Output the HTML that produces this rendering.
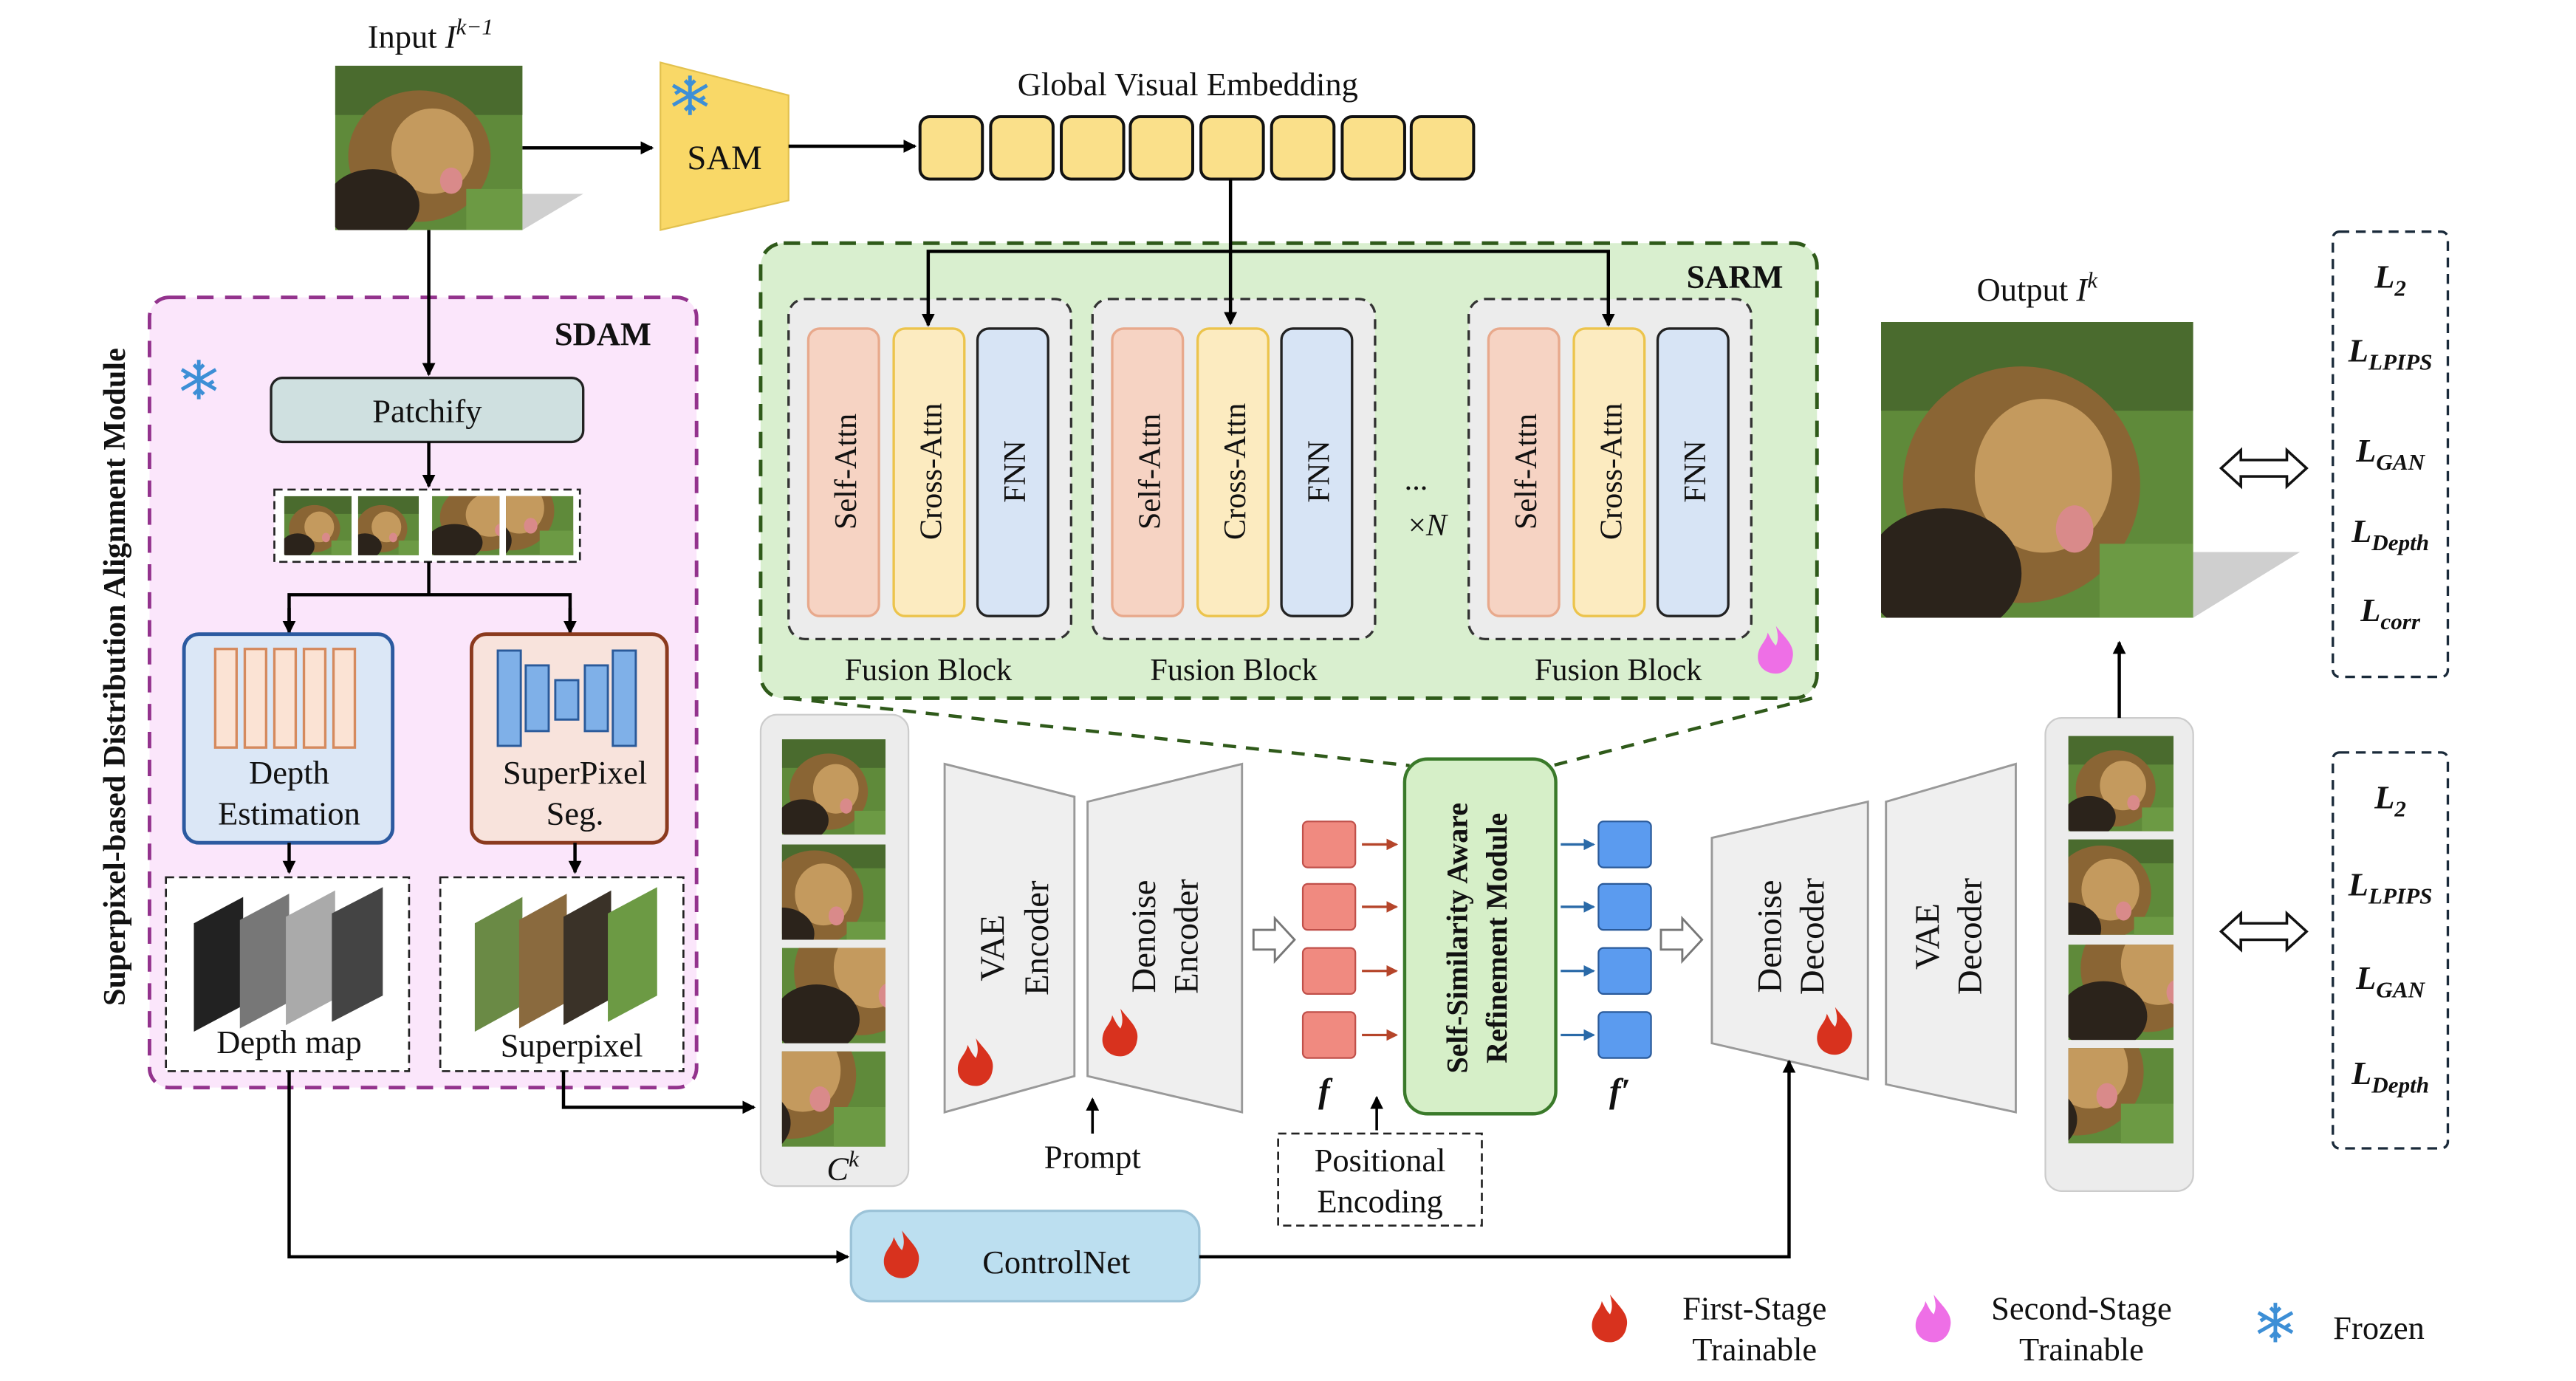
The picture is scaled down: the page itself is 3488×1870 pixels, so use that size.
<!DOCTYPE html>
<html><head><meta charset="utf-8"><style>
html,body{margin:0;padding:0;background:#fff}
svg{display:block}
text{font-family:"Liberation Serif",serif;fill:#111}
</style></head><body>
<svg width="3488" height="1870" viewBox="0 0 1568 840.6" preserveAspectRatio="none" xmlns="http://www.w3.org/2000/svg">
<defs>
<marker id="ar" markerWidth="8" markerHeight="8" refX="7" refY="4" orient="auto" markerUnits="userSpaceOnUse"><path d="M0,0 L8,4 L0,8 z" fill="#000"/></marker>
<marker id="arr" markerWidth="7" markerHeight="7" refX="6" refY="3.5" orient="auto" markerUnits="userSpaceOnUse"><path d="M0,0 L7,3.5 L0,7 z" fill="#b5452a"/></marker>
<marker id="arb" markerWidth="7" markerHeight="7" refX="6" refY="3.5" orient="auto" markerUnits="userSpaceOnUse"><path d="M0,0 L7,3.5 L0,7 z" fill="#2a6aa8"/></marker>
<g id="lion">
<rect x="0" y="0" width="100" height="100" fill="#5f8a3a"/>
<rect x="0" y="0" width="100" height="30" fill="#4a6b2e"/>
<ellipse cx="45" cy="55" rx="38" ry="40" fill="#8a6534"/>
<ellipse cx="52" cy="52" rx="22" ry="26" fill="#c49a5e"/>
<ellipse cx="20" cy="85" rx="25" ry="22" fill="#2b231b"/>
<ellipse cx="62" cy="70" rx="6" ry="8" fill="#d98a8a"/>
<rect x="70" y="75" width="30" height="25" fill="#6c9a44"/>
</g>
<g id="flame"><path d="M0,-14 C6,-6 12,-2 10,6 C9,12 4,15 0,15 C-6,15 -11,11 -11,5 C-11,-2 -6,-4 -5,-10 C-3,-6 -2,-4 0,-2 C2,-6 1,-10 0,-14 z"/></g>
<g id="snow" stroke="#3d8fd6" stroke-width="2.2" fill="none"><path d="M0,-12 V12 M-10.4,-6 L10.4,6 M-10.4,6 L10.4,-6 M-3,-9 L0,-6 L3,-9 M-3,9 L0,6 L3,9 M-9,-1 L-6,-3 M9,1 L6,3"/></g>
</defs>

<!-- Input -->
<text x="262" y="29" font-size="20" text-anchor="middle">Input <tspan font-style="italic">I</tspan><tspan font-size="14" dy="-8" font-style="italic">k−1</tspan></text>
<polygon points="318,118 355,118 318,140" fill="#cfcfcf"/>
<svg x="204" y="40" width="114" height="100" viewBox="0 0 100 100" preserveAspectRatio="none"><use href="#lion"/></svg>
<line x1="318" y1="90" x2="397" y2="90" stroke="#000" stroke-width="2" marker-end="url(#ar)"/>
<polygon points="402,38 480,58 480,122 402,140" fill="#f9d867" stroke="#e2c14e" stroke-width="1"/>
<use href="#snow" x="420" y="58"/>
<text x="441" y="103" font-size="21" text-anchor="middle">SAM</text>
<line x1="480" y1="89" x2="557" y2="89" stroke="#000" stroke-width="2" marker-end="url(#ar)"/>
<text x="723" y="58" font-size="20" text-anchor="middle">Global Visual Embedding</text>
<g fill="#fae08a" stroke="#111" stroke-width="1.8">
<rect x="560" y="71" width="38" height="38" rx="6"/><rect x="603" y="71" width="38" height="38" rx="6"/><rect x="646" y="71" width="38" height="38" rx="6"/><rect x="688" y="71" width="38" height="38" rx="6"/><rect x="731" y="71" width="38" height="38" rx="6"/><rect x="774" y="71" width="38" height="38" rx="6"/><rect x="817" y="71" width="38" height="38" rx="6"/><rect x="859" y="71" width="38" height="38" rx="6"/>
</g>

<!-- SARM -->
<rect x="463" y="148" width="643" height="277" rx="14" fill="#d9efcf" stroke="#2f5a1a" stroke-width="2.2" stroke-dasharray="10,7"/>
<text x="1056" y="175" font-size="20" font-weight="bold" text-anchor="middle">SARM</text>
<g fill="#ececec" stroke="#333" stroke-width="1.5" stroke-dasharray="6,4">
<rect x="480" y="182" width="172" height="207" rx="10"/><rect x="665" y="182" width="172" height="207" rx="10"/><rect x="894" y="182" width="172" height="207" rx="10"/>
</g>
<g font-size="19">
<g>
<rect x="492" y="200" width="43" height="175" rx="7" fill="#f6d3c3" stroke="#e8a98c" stroke-width="1.5"/>
<rect x="544" y="200" width="43" height="175" rx="7" fill="#fcebc0" stroke="#ecc44c" stroke-width="1.5"/>
<rect x="595" y="200" width="43" height="175" rx="7" fill="#d7e4f5" stroke="#222" stroke-width="1.5"/>
<text transform="translate(521,287) rotate(-90)" text-anchor="middle" font-size="19">Self-Attn</text>
<text transform="translate(573,287) rotate(-90)" text-anchor="middle" font-size="19">Cross-Attn</text>
<text transform="translate(624,287) rotate(-90)" text-anchor="middle" font-size="19">FNN</text>
</g>
<g transform="translate(185,0)">
<rect x="492" y="200" width="43" height="175" rx="7" fill="#f6d3c3" stroke="#e8a98c" stroke-width="1.5"/>
<rect x="544" y="200" width="43" height="175" rx="7" fill="#fcebc0" stroke="#ecc44c" stroke-width="1.5"/>
<rect x="595" y="200" width="43" height="175" rx="7" fill="#d7e4f5" stroke="#222" stroke-width="1.5"/>
<text transform="translate(521,287) rotate(-90)" text-anchor="middle" font-size="19">Self-Attn</text>
<text transform="translate(573,287) rotate(-90)" text-anchor="middle" font-size="19">Cross-Attn</text>
<text transform="translate(624,287) rotate(-90)" text-anchor="middle" font-size="19">FNN</text>
</g>
<g transform="translate(414,0)">
<rect x="492" y="200" width="43" height="175" rx="7" fill="#f6d3c3" stroke="#e8a98c" stroke-width="1.5"/>
<rect x="544" y="200" width="43" height="175" rx="7" fill="#fcebc0" stroke="#ecc44c" stroke-width="1.5"/>
<rect x="595" y="200" width="43" height="175" rx="7" fill="#d7e4f5" stroke="#222" stroke-width="1.5"/>
<text transform="translate(521,287) rotate(-90)" text-anchor="middle" font-size="19">Self-Attn</text>
<text transform="translate(573,287) rotate(-90)" text-anchor="middle" font-size="19">Cross-Attn</text>
<text transform="translate(624,287) rotate(-90)" text-anchor="middle" font-size="19">FNN</text>
</g>
</g>
<text x="565" y="414" font-size="19" text-anchor="middle">Fusion Block</text>
<text x="751" y="414" font-size="19" text-anchor="middle">Fusion Block</text>
<text x="985" y="414" font-size="19" text-anchor="middle">Fusion Block</text>
<text x="862" y="298" font-size="19" text-anchor="middle">...</text>
<text x="869" y="326" font-size="19" text-anchor="middle">×<tspan font-style="italic">N</tspan></text>
<use href="#flame" x="1081" y="395" fill="#ee6fe6"/>
<polyline points="749,109 749,153" stroke="#000" stroke-width="2" fill="none"/>
<polyline points="565,196 565,153 979,153 979,196" stroke="#000" stroke-width="2" fill="none"/>
<line x1="565" y1="190" x2="565" y2="198" stroke="#000" stroke-width="2" marker-end="url(#ar)"/>
<line x1="749" y1="153" x2="749" y2="197" stroke="#000" stroke-width="2" marker-end="url(#ar)"/>
<line x1="979" y1="190" x2="979" y2="198" stroke="#000" stroke-width="2" marker-end="url(#ar)"/>
<line x1="480" y1="425" x2="858" y2="466" stroke="#2f5a1a" stroke-width="2" stroke-dasharray="8,6"/>
<line x1="1103" y1="425" x2="945" y2="466" stroke="#2f5a1a" stroke-width="2" stroke-dasharray="8,6"/>

<!-- SDAM -->
<rect x="91" y="181" width="333" height="481" rx="12" fill="#fbe6fb" stroke="#93338d" stroke-width="2.2" stroke-dasharray="10,7"/>
<text x="367" y="210" font-size="20" font-weight="bold" text-anchor="middle">SDAM</text>
<use href="#snow" x="121" y="231"/>
<text transform="translate(76,412) rotate(-90)" font-size="19" font-weight="bold" text-anchor="middle">Superpixel-based Distribution Alignment Module</text>
<line x1="261" y1="140" x2="261" y2="228" stroke="#000" stroke-width="2" marker-end="url(#ar)"/>
<rect x="165" y="230" width="190" height="39" rx="7" fill="#cfe0e0" stroke="#222" stroke-width="1.5"/>
<text x="260" y="257" font-size="20" text-anchor="middle">Patchify</text>
<line x1="261" y1="269" x2="261" y2="296" stroke="#000" stroke-width="2" marker-end="url(#ar)"/>
<rect x="167" y="298" width="186" height="44" fill="#fff" stroke="#222" stroke-width="1.2" stroke-dasharray="5,3"/>
<svg x="173" y="302" width="41" height="36" viewBox="0 0 100 100" preserveAspectRatio="none"><use href="#lion"/></svg>
<svg x="218" y="302" width="41" height="36" viewBox="10 0 100 100" preserveAspectRatio="none"><use href="#lion"/></svg>
<svg x="263" y="302" width="41" height="36" viewBox="0 30 60 70" preserveAspectRatio="none"><use href="#lion"/></svg>
<svg x="308" y="302" width="41" height="36" viewBox="40 40 60 60" preserveAspectRatio="none"><use href="#lion"/></svg>
<polyline points="261,342 261,362" stroke="#000" stroke-width="2" fill="none"/>
<polyline points="176,384 176,362 347,362 347,384" stroke="#000" stroke-width="2" fill="none"/>
<line x1="176" y1="370" x2="176" y2="385" stroke="#000" stroke-width="2" marker-end="url(#ar)"/>
<line x1="347" y1="370" x2="347" y2="385" stroke="#000" stroke-width="2" marker-end="url(#ar)"/>
<rect x="112" y="386" width="127" height="127" rx="9" fill="#dbe7f6" stroke="#2c5aa0" stroke-width="2.2"/>
<g fill="#fbe3d4" stroke="#d58a5e" stroke-width="1.5">
<rect x="131" y="395" width="13" height="60"/><rect x="149" y="395" width="13" height="60"/><rect x="167" y="395" width="13" height="60"/><rect x="185" y="395" width="13" height="60"/><rect x="203" y="395" width="13" height="60"/>
</g>
<text x="176" y="477" font-size="20" text-anchor="middle">Depth</text>
<text x="176" y="502" font-size="20" text-anchor="middle">Estimation</text>
<rect x="287" y="386" width="119" height="127" rx="9" fill="#f8e3dc" stroke="#8b3a1e" stroke-width="2.2"/>
<g fill="#7fb0e8" stroke="#2a5a9a" stroke-width="1.3">
<rect x="303" y="396" width="14" height="58"/><rect x="320" y="405" width="14" height="40"/><rect x="338" y="414" width="14" height="24"/><rect x="356" y="405" width="14" height="40"/><rect x="373" y="396" width="14" height="58"/>
</g>
<text x="350" y="477" font-size="20" text-anchor="middle">SuperPixel</text>
<text x="350" y="502" font-size="20" text-anchor="middle">Seg.</text>
<line x1="176" y1="513" x2="176" y2="531" stroke="#000" stroke-width="2" marker-end="url(#ar)"/>
<line x1="350" y1="513" x2="350" y2="531" stroke="#000" stroke-width="2" marker-end="url(#ar)"/>
<rect x="101" y="534" width="148" height="118" fill="#fff" stroke="#222" stroke-width="1.2" stroke-dasharray="5,3"/>
<rect x="268" y="534" width="148" height="118" fill="#fff" stroke="#222" stroke-width="1.2" stroke-dasharray="5,3"/>
<polygon points="118,562 148,546 148,612 118,628" fill="#222"/>
<polygon points="146,560 176,544 176,610 146,626" fill="#777"/>
<polygon points="174,558 204,542 204,608 174,624" fill="#aaa"/>
<polygon points="202,556 233,540 233,606 202,622" fill="#444"/>
<text x="176" y="641" font-size="20" text-anchor="middle">Depth map</text>
<polygon points="289,562 318,546 318,612 289,628" fill="#6a8a45"/>
<polygon points="316,560 345,544 345,610 316,626" fill="#8a6a3e"/>
<polygon points="343,558 372,542 372,608 343,624" fill="#3a3228"/>
<polygon points="370,556 400,540 400,606 370,622" fill="#6c9a44"/>
<text x="348" y="643" font-size="20" text-anchor="middle">Superpixel</text>
<polyline points="176,652 176,765 516,765" stroke="#000" stroke-width="2" fill="none" marker-end="url(#ar)"/>
<polyline points="343,652 343,674 459,674" stroke="#000" stroke-width="2" fill="none" marker-end="url(#ar)"/>

<!-- C^k -->
<rect x="463" y="435" width="90" height="287" rx="10" fill="#ececec" stroke="#ccc" stroke-width="1"/>
<svg x="476" y="450" width="63" height="58" viewBox="0 0 100 100" preserveAspectRatio="none"><use href="#lion"/></svg>
<svg x="476" y="514" width="63" height="58" viewBox="20 10 80 80" preserveAspectRatio="none"><use href="#lion"/></svg>
<svg x="476" y="577" width="63" height="58" viewBox="0 40 60 60" preserveAspectRatio="none"><use href="#lion"/></svg>
<svg x="476" y="640" width="63" height="58" viewBox="40 40 60 60" preserveAspectRatio="none"><use href="#lion"/></svg>
<text x="513" y="718" font-size="20" font-style="italic" text-anchor="middle">C<tspan font-size="14" dy="-8">k</tspan></text>

<!-- encoders -->
<polygon points="575,465 654,485 654,655 575,677" fill="#efefef" stroke="#999" stroke-width="1.3"/>
<text transform="translate(611,577) rotate(-90)" font-size="21" text-anchor="middle">VAE</text>
<text transform="translate(638,571) rotate(-90)" font-size="21" text-anchor="middle">Encoder</text>
<use href="#flame" x="594" y="646" fill="#d8321e"/>
<polygon points="662,488 756,465 756,677 662,655" fill="#efefef" stroke="#999" stroke-width="1.3"/>
<text transform="translate(703,570) rotate(-90)" font-size="21" text-anchor="middle">Denoise</text>
<text transform="translate(729,570) rotate(-90)" font-size="21" text-anchor="middle">Encoder</text>
<use href="#flame" x="682" y="628" fill="#d8321e"/>
<line x1="665" y1="690" x2="665" y2="669" stroke="#000" stroke-width="1.6" marker-end="url(#ar)"/>
<text x="665" y="711" font-size="20" text-anchor="middle">Prompt</text>
<path d="M763,566 H776 V559 L788,572 L776,585 V578 H763 Z" fill="#fff" stroke="#777" stroke-width="1.3"/>
<g fill="#f08a80" stroke="#c0504a" stroke-width="1">
<rect x="793" y="500" width="32" height="28" rx="3"/><rect x="793" y="538" width="32" height="28" rx="3"/><rect x="793" y="577" width="32" height="28" rx="3"/><rect x="793" y="616" width="32" height="28" rx="3"/>
</g>
<g stroke="#b5452a" stroke-width="1.5">
<line x1="829" y1="514" x2="850" y2="514" marker-end="url(#arr)"/><line x1="829" y1="552" x2="850" y2="552" marker-end="url(#arr)"/><line x1="829" y1="591" x2="850" y2="591" marker-end="url(#arr)"/><line x1="829" y1="630" x2="850" y2="630" marker-end="url(#arr)"/>
</g>
<text x="806" y="671" font-size="21" font-style="italic" font-weight="bold" text-anchor="middle">f</text>
<rect x="778" y="690" width="124" height="56" fill="#fff" stroke="#222" stroke-width="1.2" stroke-dasharray="5,3"/>
<text x="840" y="713" font-size="20" text-anchor="middle">Positional</text>
<text x="840" y="738" font-size="20" text-anchor="middle">Encoding</text>
<line x1="838" y1="688" x2="838" y2="668" stroke="#000" stroke-width="1.6" marker-end="url(#ar)"/>
<rect x="855" y="462" width="92" height="216" rx="14" fill="#d6efc8" stroke="#3a7a2a" stroke-width="2"/>
<text transform="translate(893,571) rotate(-90)" font-size="18" font-weight="bold" text-anchor="middle">Self-Similarity Aware</text>
<text transform="translate(917,571) rotate(-90)" font-size="18" font-weight="bold" text-anchor="middle">Refinement Module</text>
<g stroke="#2a6aa8" stroke-width="1.5">
<line x1="950" y1="514" x2="970" y2="514" marker-end="url(#arb)"/><line x1="950" y1="552" x2="970" y2="552" marker-end="url(#arb)"/><line x1="950" y1="591" x2="970" y2="591" marker-end="url(#arb)"/><line x1="950" y1="630" x2="970" y2="630" marker-end="url(#arb)"/>
</g>
<g fill="#5b9bef" stroke="#2a5a9a" stroke-width="1">
<rect x="973" y="500" width="32" height="28" rx="3"/><rect x="973" y="538" width="32" height="28" rx="3"/><rect x="973" y="577" width="32" height="28" rx="3"/><rect x="973" y="616" width="32" height="28" rx="3"/>
</g>
<text x="986" y="671" font-size="21" font-style="italic" font-weight="bold" text-anchor="middle">f′</text>
<path d="M1011,566 H1024 V559 L1036,572 L1024,585 V578 H1011 Z" fill="#fff" stroke="#777" stroke-width="1.3"/>

<!-- decoders -->
<polygon points="1042,510 1137,488 1137,657 1042,635" fill="#efefef" stroke="#999" stroke-width="1.3"/>
<text transform="translate(1084,570) rotate(-90)" font-size="21" text-anchor="middle">Denoise</text>
<text transform="translate(1110,570) rotate(-90)" font-size="21" text-anchor="middle">Decoder</text>
<use href="#flame" x="1117" y="627" fill="#d8321e"/>
<polygon points="1148,488 1227,465 1227,677 1148,660" fill="#efefef" stroke="#999" stroke-width="1.3"/>
<text transform="translate(1180,570) rotate(-90)" font-size="21" text-anchor="middle">VAE</text>
<text transform="translate(1206,570) rotate(-90)" font-size="21" text-anchor="middle">Decoder</text>

<!-- output panel -->
<rect x="1245" y="437" width="90" height="288" rx="10" fill="#ececec" stroke="#ccc" stroke-width="1"/>
<svg x="1259" y="448" width="64" height="58" viewBox="0 0 100 100" preserveAspectRatio="none"><use href="#lion"/></svg>
<svg x="1259" y="511" width="64" height="58" viewBox="20 10 80 80" preserveAspectRatio="none"><use href="#lion"/></svg>
<svg x="1259" y="575" width="64" height="58" viewBox="0 40 60 60" preserveAspectRatio="none"><use href="#lion"/></svg>
<svg x="1259" y="638" width="64" height="58" viewBox="40 40 60 60" preserveAspectRatio="none"><use href="#lion"/></svg>
<line x1="1290" y1="437" x2="1290" y2="391" stroke="#000" stroke-width="2" marker-end="url(#ar)"/>
<text x="1240" y="183" font-size="20" text-anchor="middle">Output <tspan font-style="italic">I</tspan><tspan font-size="14" dy="-8" font-style="italic">k</tspan></text>
<polygon points="1335,336 1400,336 1335,376" fill="#cfcfcf"/>
<svg x="1145" y="196" width="190" height="180" viewBox="0 0 100 100" preserveAspectRatio="none"><use href="#lion"/></svg>
<g fill="#fff" stroke="#111" stroke-width="1.6">
<path d="M1352,285 L1364,274 V280 H1392 V274 L1404,285 L1392,296 V290 H1364 V296 Z"/>
<path d="M1352,567 L1364,556 V562 H1392 V556 L1404,567 L1392,578 V572 H1364 V578 Z"/>
</g>
<rect x="1420" y="141" width="70" height="271" rx="4" fill="#fff" stroke="#1a2a3a" stroke-width="1.5" stroke-dasharray="6,4"/>
<rect x="1420" y="458" width="70" height="241" rx="4" fill="#fff" stroke="#1a2a3a" stroke-width="1.5" stroke-dasharray="6,4"/>
<g font-size="20" font-style="italic" font-weight="bold" text-anchor="middle">
<text x="1455" y="175">L<tspan font-size="14" dy="5">2</tspan></text>
<text x="1455" y="220">L<tspan font-size="14" dy="5">LPIPS</tspan></text>
<text x="1455" y="281">L<tspan font-size="14" dy="5">GAN</tspan></text>
<text x="1455" y="330">L<tspan font-size="14" dy="5">Depth</tspan></text>
<text x="1455" y="378">L<tspan font-size="14" dy="5">corr</tspan></text>
<text x="1455" y="492">L<tspan font-size="14" dy="5">2</tspan></text>
<text x="1455" y="545">L<tspan font-size="14" dy="5">LPIPS</tspan></text>
<text x="1455" y="602">L<tspan font-size="14" dy="5">GAN</tspan></text>
<text x="1455" y="660">L<tspan font-size="14" dy="5">Depth</tspan></text>
</g>

<!-- ControlNet -->
<rect x="518" y="737" width="212" height="55" rx="12" fill="#bcdff0" stroke="#9cc3d8" stroke-width="1.5"/>
<use href="#flame" x="549" y="763" fill="#d8321e"/>
<text x="643" y="775" font-size="20" text-anchor="middle">ControlNet</text>
<polyline points="730,765 1089,765 1089,646" stroke="#000" stroke-width="2" fill="none" marker-end="url(#ar)"/>

<!-- legend -->
<use href="#flame" x="980" y="802" fill="#d8321e"/>
<text x="1068" y="803" font-size="20" text-anchor="middle">First-Stage</text>
<text x="1068" y="828" font-size="20" text-anchor="middle">Trainable</text>
<use href="#flame" x="1177" y="802" fill="#ee6fe6"/>
<text x="1267" y="803" font-size="20" text-anchor="middle">Second-Stage</text>
<text x="1267" y="828" font-size="20" text-anchor="middle">Trainable</text>
<use href="#snow" x="1385" y="805"/>
<text x="1448" y="815" font-size="20" text-anchor="middle">Frozen</text>
</svg>
</body></html>
